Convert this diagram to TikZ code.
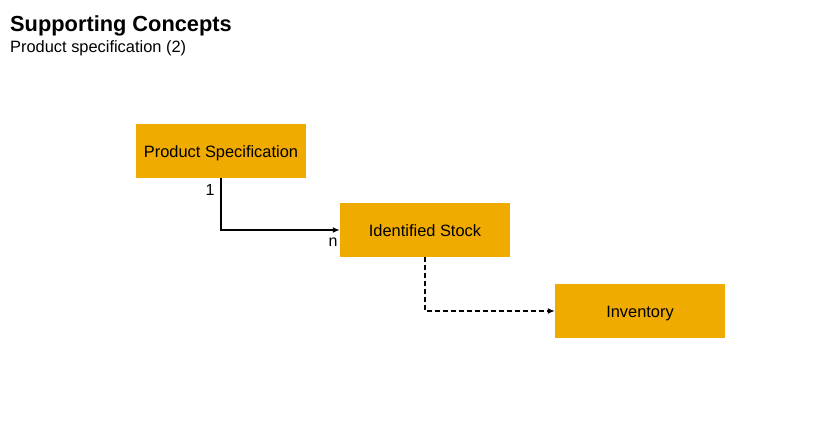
\documentclass[tikz,border=0pt]{standalone}
\usepackage{fontspec}
\setmainfont{Liberation Sans}
\usetikzlibrary{arrows.meta}
\definecolor{gold}{HTML}{F0AB00}
\begin{document}
\begin{tikzpicture}[x=1pt,y=-1pt,
  box/.style={fill=gold,draw=none,minimum width=170pt,minimum height=54pt,inner sep=0pt,text height=14pt,text depth=0pt,font=\fontsize{16.4}{19}\selectfont},
  conn/.style={line width=1.5pt,-{Latex[length=7pt,width=6pt]}},
  lbl/.style={font=\fontsize{16}{18}\selectfont,inner sep=0pt}]
\useasboundingbox (0,0) rectangle (825,427);
\node[anchor=base west,inner sep=0pt,font=\fontsize{21.8}{26}\bfseries\selectfont] (title) at (10,32) {Supporting Concepts};
\node[anchor=base west,inner sep=0pt,font=\fontsize{16.4}{19}\selectfont] (sub) at (10,53) {Product specification (2)};
\node[box] (ps) at (221,151) {Product Specification};
\node[box] (is) at (425,230) {Identified Stock};
\node[box] (inv) at (640,311) {Inventory};
\draw[conn] (ps.south) |- (is.west);
\draw[conn,dashed,dash pattern=on 5pt off 3pt] (is.south) |- (inv.west);
\node[lbl] (one) at (210,190) {1};
\node[lbl] (n) at (333,242) {n};
\end{tikzpicture}
\end{document}
